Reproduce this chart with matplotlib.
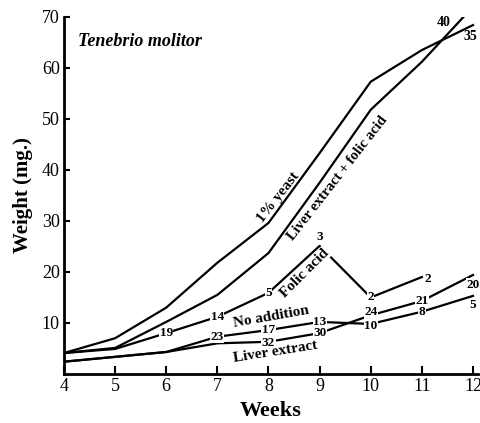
import matplotlib.pyplot as plt

# weeks of age and larval weight (mg)
weeks = [4, 5, 6, 7, 8, 9, 10, 11, 12]
yeast = [4.1, 7.0, 13.0, 21.8, 29.6, 43.3, 57.3, 63.5, 68.4]
liver_folic = [4.1, 5.1, 10.2, 15.5, 23.7, 37.5, 51.8, 61.2, 72.0]

folic_weeks = [4, 5, 6, 7, 8, 9, 10, 11]
folic = [4.1, 4.9, 8.0, 11.2, 15.9, 25.1, 15.0, 19.0]

low_weeks = [4, 6, 7, 8, 9, 10, 11, 12]
no_addition = [2.4, 4.3, 7.3, 8.6, 10.2, 9.8, 12.2, 15.3]
liver = [2.4, 4.3, 6.0, 6.3, 8.0, 11.5, 14.3, 19.4]

# number of surviving larvae written along the curves
folic_n_weeks = [6, 7, 8, 9, 10, 11]
folic_n = [19, 14, 5, 3, 2, 2]
no_add_n_weeks = [7, 8, 9, 10, 11, 12]
no_add_n = [23, 17, 13, 10, 8, 5]
liver_n_weeks = [8, 9, 10, 11, 12]
liver_n = [32, 30, 24, 21, 20]

plt.rcParams['font.family'] = ['Liberation Serif', 'DejaVu Serif']

fig = plt.figure(figsize=(4.81, 4.23), dpi=100)
ax = fig.add_axes([0.133, 0.116, 0.861, 0.844])

lw = 1.6
ax.plot(weeks, yeast, color='black', lw=lw)
ax.plot(weeks, liver_folic, color='black', lw=lw)
ax.plot(folic_weeks, folic, color='black', lw=lw)
ax.plot(low_weeks, no_addition, color='black', lw=lw)
ax.plot(low_weeks, liver, color='black', lw=lw)

box = dict(facecolor='white', edgecolor='none', pad=0.3)
num = dict(fontsize=9.5, fontweight='bold', ha='center', va='center', bbox=box)

# survivor counts sit on the curve, breaking the line
for w, n in zip(folic_n_weeks, folic_n):
    y = folic[folic_weeks.index(w)]
    if w == 9:
        ax.text(w, y + 1.8, str(n), **num)
    elif w == 11:
        ax.text(w + 0.12, y - 0.4, str(n), **num)
    else:
        ax.text(w, y, str(n), **num)
for w, n in zip(no_add_n_weeks, no_add_n):
    y = no_addition[low_weeks.index(w)]
    if w == 12:
        ax.text(w, y - 1.8, str(n), **num)
    elif w == 10:
        ax.text(w, y - 0.4, str(n), **num)
    else:
        ax.text(w, y, str(n), **num)
for w, n in zip(liver_n_weeks, liver_n):
    y = liver[low_weeks.index(w)]
    if w == 12:
        ax.text(w, y - 1.9, str(n), **num)
    elif w == 10:
        ax.text(w, y + 0.6, str(n), **num)
    elif w == 8:
        ax.text(w, y - 0.3, str(n), **num)
    else:
        ax.text(w, y, str(n), **num)
ax.text(11.42, 69.0, '40', fontsize=10, fontweight='bold', ha='center', va='center')
ax.text(11.95, 66.1, '35', fontsize=10, fontweight='bold', ha='center', va='center')

lab = dict(fontsize=11, fontweight='bold', ha='center', va='center',
           rotation_mode='anchor')
ax.text(8.2, 34.7, '1% yeast', rotation=52, **lab)
ax.text(9.36, 38.3, 'Liver extract + folic acid', rotation=52,
        **{**lab, 'fontsize': 10.5})
ax.text(8.7, 19.8, 'Folic acid', rotation=45, bbox=box, **lab)
ax.text(8.05, 11.2, 'No addition', rotation=10, **lab)
ax.text(8.13, 4.3, 'Liver extract', rotation=9, **lab)
ax.text(4.27, 65.1, 'Tenebrio molitor', fontsize=13, fontweight='bold',
        fontstyle='italic', ha='left', va='center')

ax.set_xlim(4, 12.1)
ax.set_ylim(0, 70)
ax.set_xticks(weeks)
ax.set_yticks([10, 20, 30, 40, 50, 60, 70])
ax.tick_params(axis='x', direction='in', length=6, width=1.5, labelsize=13, pad=3)
ax.tick_params(axis='y', direction='in', length=4, width=1.5, labelsize=13, pad=3)
for s in ['top', 'right']:
    ax.spines[s].set_visible(False)
for s in ['left', 'bottom']:
    ax.spines[s].set_linewidth(2)

ax.set_xlabel('Weeks', fontsize=16, fontweight='bold', labelpad=4)
ax.set_ylabel('Weight (mg.)', fontsize=15, fontweight='bold', labelpad=6)

fig.savefig('out.png', dpi=100)
